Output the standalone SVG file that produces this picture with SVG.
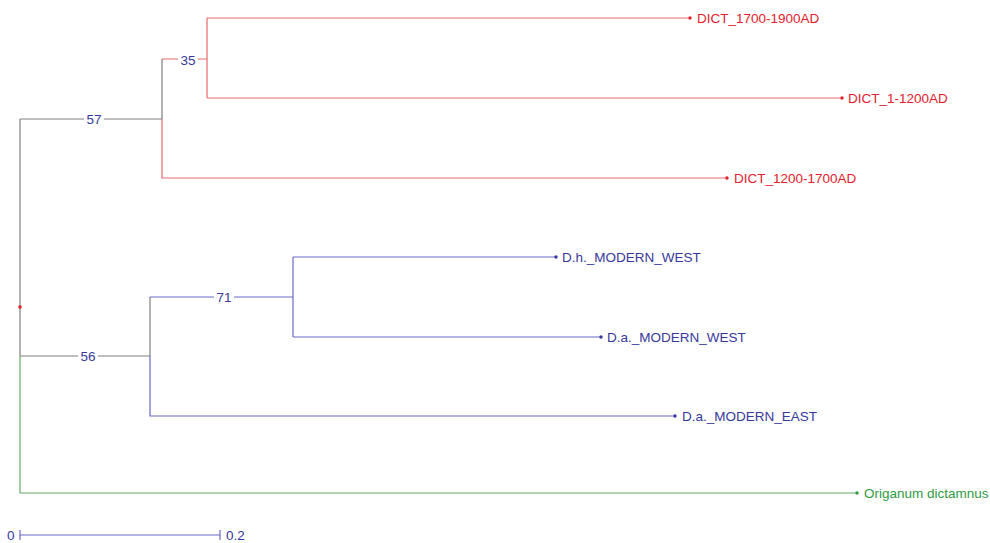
<svg xmlns="http://www.w3.org/2000/svg" width="990" height="543" viewBox="0 0 990 543">
<style>
text{font-family:"Liberation Sans",Arial,sans-serif;font-size:13.5px}
.red{stroke:#e56a6a;stroke-width:1.2;fill:none}
.blue{stroke:#6a6ac6;stroke-width:1.2;fill:none}
.gray{stroke:#808080;stroke-width:1.2;fill:none}
.green{stroke:#64ad64;stroke-width:1.2;fill:none}
.tr{fill:#e4202c}
.tb{fill:#38389a}
.tg{fill:#2f9a3f}
.bl{fill:#fff}
</style>
<rect width="990" height="543" fill="#fff"/>
<g id="connectors">
<path class="gray" d="M20,119V356M20,119H162M162,59V119M20,356H150M150,297V356"/>
<path class="green" d="M20,356V493H857"/>
<path class="red" d="M162,119V178H727M162,59H207M207,18V98M207,18H690M207,98H842"/>
<path class="blue" d="M150,356V416H675M150,297H293M293,257V337M293,257H556M293,337H601"/>
<circle cx="20" cy="307" r="1.8" fill="#e4202c"/>
</g>
<g id="bootstrap">
<rect class="bl" x="84" y="111" width="20" height="16"/><text x="94" y="124" text-anchor="middle" class="tb">57</text>
<rect class="bl" x="178" y="52" width="20" height="16"/><text x="188" y="64.5" text-anchor="middle" class="tb">35</text>
<rect class="bl" x="78" y="348" width="20" height="16"/><text x="88" y="361" text-anchor="middle" class="tb">56</text>
<rect class="bl" x="214" y="289" width="20" height="16"/><text x="224" y="302" text-anchor="middle" class="tb">71</text>
</g>
<g id="leaf-dict-1700-1900"><circle cx="690" cy="18" r="1.7" class="tr"/><text x="697" y="23" class="tr">DICT_1700-1900AD</text></g>
<g id="leaf-dict-1-1200"><circle cx="842" cy="98" r="1.7" class="tr"/><text x="848" y="103" class="tr">DICT_1-1200AD</text></g>
<g id="leaf-dict-1200-1700"><circle cx="727" cy="178" r="1.7" class="tr"/><text x="734" y="183" class="tr">DICT_1200-1700AD</text></g>
<g id="leaf-dh-west"><circle cx="556" cy="257" r="1.7" class="tb"/><text x="562" y="262" class="tb">D.h._MODERN_WEST</text></g>
<g id="leaf-da-west"><circle cx="601" cy="337" r="1.7" class="tb"/><text x="607" y="342" class="tb">D.a._MODERN_WEST</text></g>
<g id="leaf-da-east"><circle cx="675" cy="416" r="1.7" class="tb"/><text x="682" y="421" class="tb">D.a._MODERN_EAST</text></g>
<g id="leaf-origanum"><circle cx="857" cy="493" r="1.7" class="tg"/><text x="864" y="498" class="tg">Origanum dictamnus</text></g>
<g id="scale">
<path class="blue" d="M20,535H220M20,530V540M220,530V540"/>
<text x="7" y="539.5" class="tb">0</text>
<text x="226" y="539.5" class="tb">0.2</text>
</g>
</svg>
